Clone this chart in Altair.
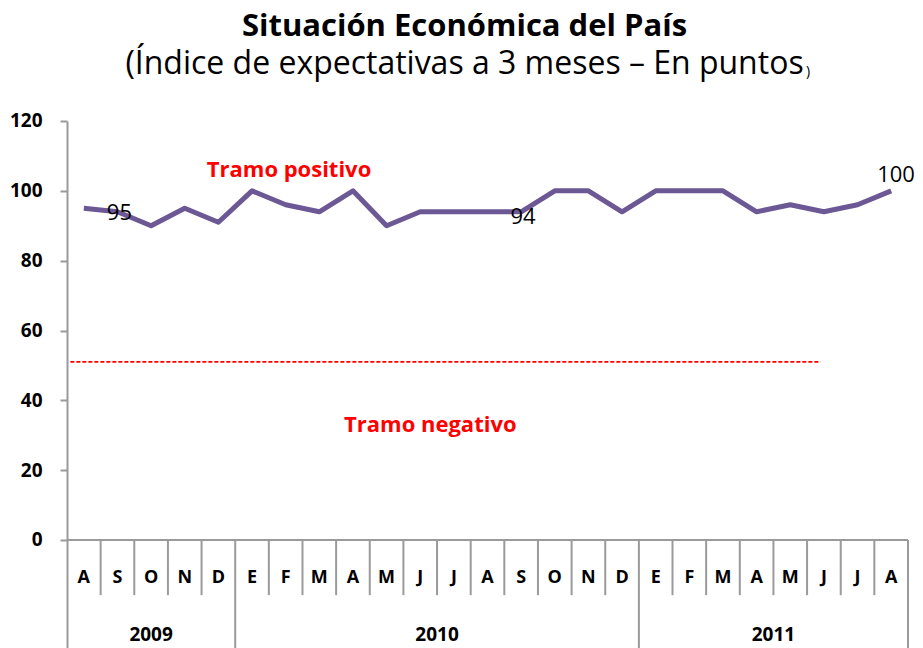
import altair as alt
import pandas as pd

FONT = "Open Sans"

months = ["A", "S", "O", "N", "D",
          "E", "F", "M", "A", "M", "J", "J", "A", "S", "O", "N", "D",
          "E", "F", "M", "A", "M", "J", "J", "A"]
years = ["2009"] * 5 + ["2010"] * 12 + ["2011"] * 8
values = [95, 94, 90, 95, 91,
          100, 96, 94, 100, 90, 94, 94, 94, 94, 100, 100, 94,
          100, 100, 100, 94, 96, 94, 96, 100]
labelled = [0, 12]          # points labelled to the right
labelled_top = [24]         # point labelled above
threshold = 51
threshold_span = [-0.4, 21.9]
annotations = ["Tramo positivo", "Tramo negativo"]
annot_x = [6.1, 10.3]
annot_y = [106, 33]

Y_MIN, Y_MAX = -31, 120
MONTH_ROW = -10.9
MONTH_DIV = -15.8
YEAR_ROW = -27.3

df = pd.DataFrame({"i": range(len(months)), "month": months, "year": years, "value": values})
df_lab = df[df["i"].isin(labelled)]
df_lab_top = df[df["i"].isin(labelled_top)]

yr = df.groupby("year")["i"].agg(["min", "max"]).reset_index()
yr["mid"] = (yr["min"] + yr["max"]) / 2
yr_bounds = pd.DataFrame({"b": list(yr["max"] + 0.5)})
month_bounds = pd.DataFrame({"b": [i + 0.5 for i in range(len(months) - 1)
                                   if (i + 0.5) not in set(yr_bounds["b"])]})

xs = alt.Scale(domain=[-0.5, len(months) - 0.5], nice=False, zero=False)
ys = alt.Scale(domain=[Y_MIN, Y_MAX], nice=False, zero=False)
X = lambda f: alt.X(f, type="quantitative", scale=xs, axis=None)

GRAY = "#9a9a9a"

base = alt.Chart(df)

line = base.mark_line(color="#6B5894", strokeWidth=5, strokeJoin="round").encode(
    x=X("i"),
    y=alt.Y("value:Q", scale=ys, title=None,
            axis=alt.Axis(values=[0, 20, 40, 60, 80, 100, 120], grid=False,
                          labelFont=FONT, labelFontWeight="bold", labelFontSize=19,
                          labelColor="black", labelPadding=18, tickSize=7,
                          tickColor=GRAY, domainColor=GRAY, domainWidth=2, tickWidth=2)),
)

lab = alt.Chart(df_lab).mark_text(align="left", baseline="middle", dx=23, dy=5,
                                  font=FONT, fontSize=22, color="black").encode(
    x=X("i"), y=alt.Y("value:Q", scale=ys), text="value:Q")
lab_top = alt.Chart(df_lab_top).mark_text(align="left", baseline="middle", dx=-14, dy=-16,
                                          font=FONT, fontSize=22, color="black").encode(
    x=X("i"), y=alt.Y("value:Q", scale=ys), text="value:Q")

thr = alt.Chart(pd.DataFrame({"x": [threshold_span[0]], "x2": [threshold_span[1]], "y": [threshold]})).mark_rule(
    color="#ff0000", strokeWidth=1.6, strokeDash=[4, 2]).encode(
    x=X("x"), x2="x2", y=alt.Y("y:Q", scale=ys))

ann = alt.Chart(pd.DataFrame({"t": annotations, "x": annot_x, "y": annot_y})).mark_text(
    font=FONT, fontWeight="bold", fontSize=22, color="#ff0000", baseline="middle").encode(
    x=X("x"), y=alt.Y("y:Q", scale=ys), text="t:N")

axis_line = alt.Chart(pd.DataFrame({"x": [-0.5], "x2": [len(months) - 0.5], "y": [0]})).mark_rule(
    color=GRAY, strokeWidth=2).encode(x=X("x"), x2="x2", y=alt.Y("y:Q", scale=ys))

mdiv = alt.Chart(month_bounds).mark_rule(color=GRAY, strokeWidth=2).encode(
    x=X("b"), y=alt.Y("y0:Q", scale=ys), y2="y1:Q"
).transform_calculate(y0="0", y1=str(MONTH_DIV))

ydiv = alt.Chart(yr_bounds).mark_rule(color=GRAY, strokeWidth=2).encode(
    x=X("b"), y=alt.Y("y0:Q", scale=ys), y2="y1:Q"
).transform_calculate(y0="0", y1=str(Y_MIN))

mtext = base.mark_text(font=FONT, fontWeight="bold", fontSize=18, color="black", baseline="middle").encode(
    x=X("i"), y=alt.Y("yy:Q", scale=ys), text="month:N"
).transform_calculate(yy=str(MONTH_ROW))

ytext = alt.Chart(yr).mark_text(font=FONT, fontWeight="bold", fontSize=19, color="black", baseline="middle").encode(
    x=X("mid"), y=alt.Y("yy:Q", scale=ys), text="year:N"
).transform_calculate(yy=str(YEAR_ROW))

# small closing parenthesis that ends the subtitle in the original
paren = alt.Chart(pd.DataFrame({"t": [")"]})).mark_text(
    font=FONT, fontSize=14, color="black", align="left", baseline="alphabetic").encode(
    x=alt.value(739), y=alt.value(-45), text="t:N")

chart = alt.layer(axis_line, mdiv, ydiv, mtext, ytext, thr, ann, line, lab, lab_top, paren).properties(
    width=841,
    height=(Y_MAX - Y_MIN) * 3.4917,
    autosize=alt.AutoSizeParams(type="none"),
    padding={"left": 59, "top": 113, "right": 7, "bottom": 0},
    title=alt.TitleParams(
        text="Situación Económica del País",
        subtitle="(Índice de expectativas a 3 meses – En puntos",
        font=FONT, fontSize=31, fontWeight="bold", color="black",
        subtitleFont=FONT, subtitleFontSize=32, subtitleColor="black",
        subtitlePadding=6, anchor="middle", dx=-23, offset=-16,
    ),
).configure_view(stroke=None)

chart.save("out.html", embed_options={"renderer": "svg", "actions": False})
